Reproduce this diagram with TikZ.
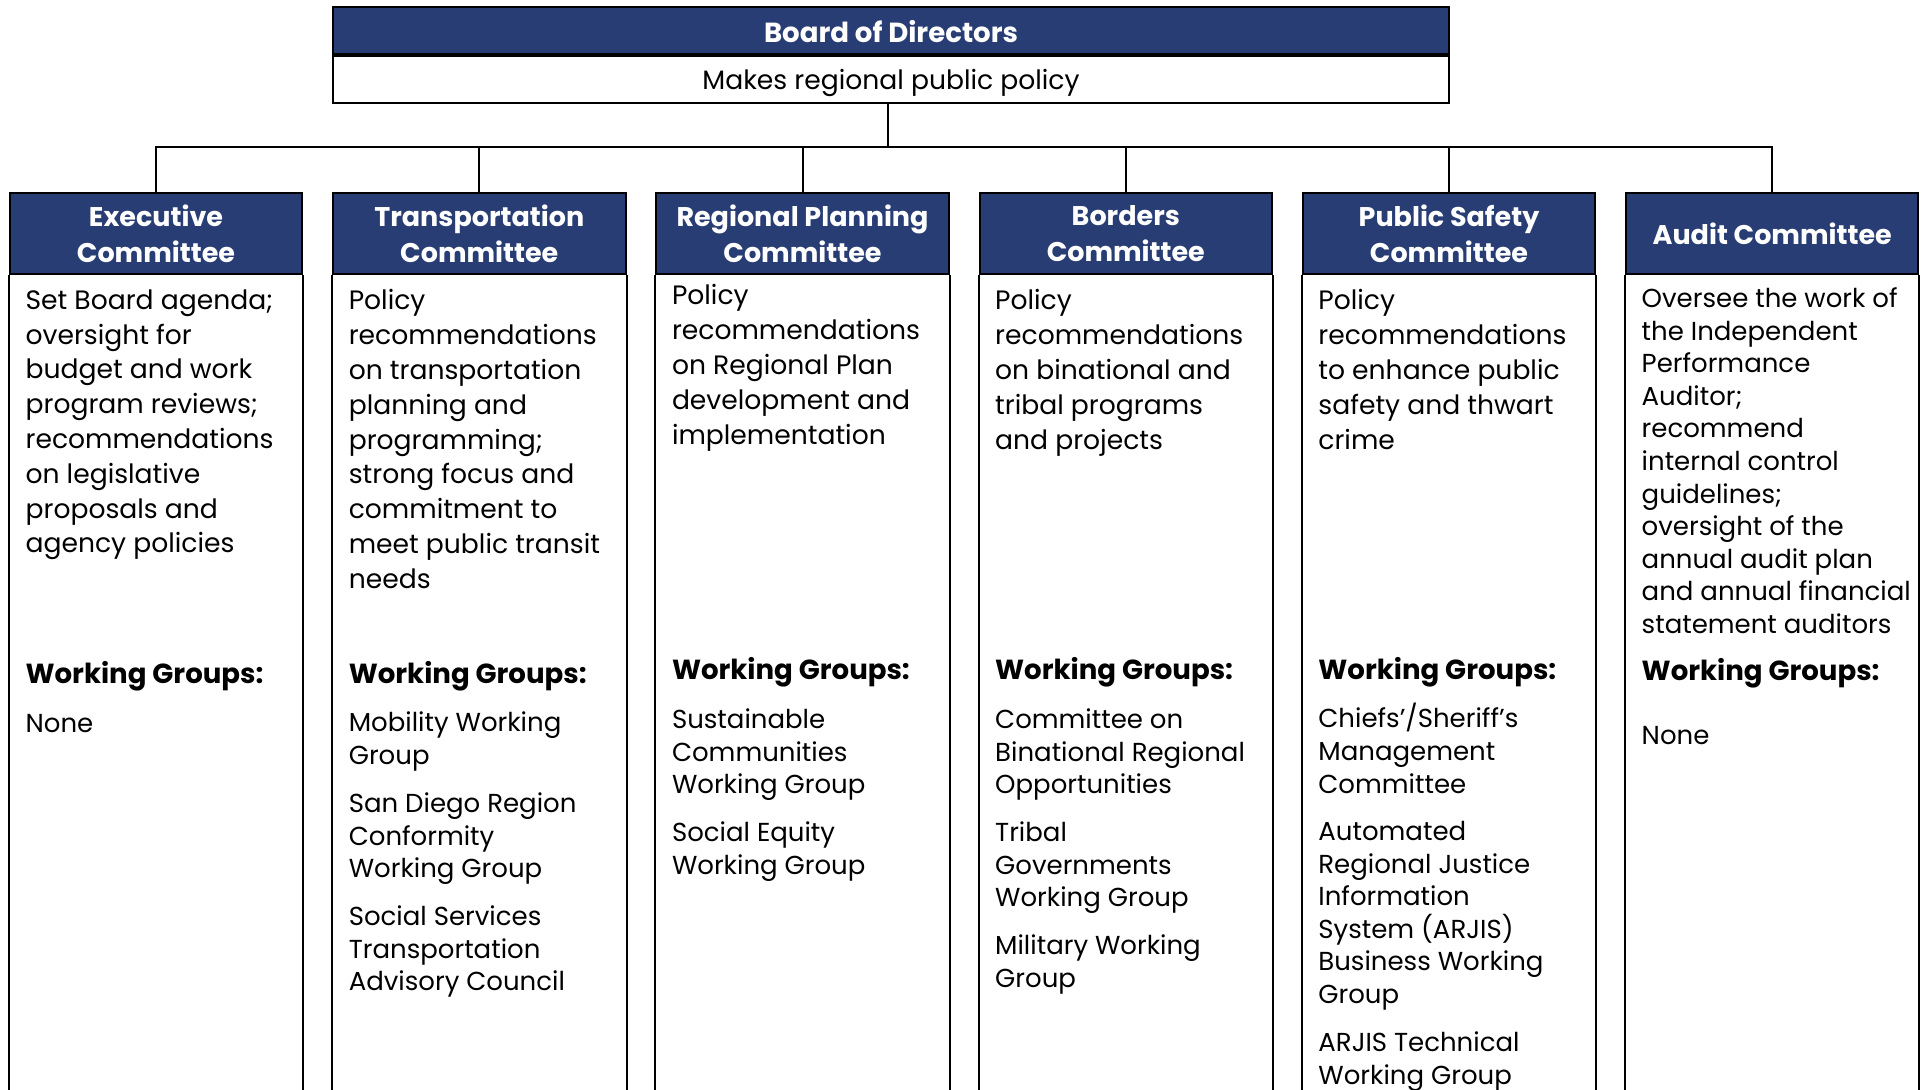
\documentclass[tikz,border=0pt]{standalone}
\usepackage{fontspec}
\setmainfont{Poppins}
\usetikzlibrary{positioning}
\definecolor{navy}{RGB}{41,61,117}
\newcommand{\bodyfont}{\fontsize{13.3}{17.4}\selectfont}
\newcommand{\listfont}{\fontsize{13}{16.3}\selectfont}
\newcommand{\headfont}{\fontsize{13.5}{17.8}\selectfont\bfseries}
\newcommand{\wgfont}{\fontsize{13.8}{17.8}\selectfont\bfseries}

\begin{document}
\begin{tikzpicture}[x=0.5pt,y=-0.5pt,line width=1pt,node distance=8.2pt]
\tikzstyle{head}=[draw,fill=navy,text=white,font=\headfont,align=center,minimum width=146.25pt,minimum height=40.5pt,inner sep=0pt]
\tikzstyle{board}=[draw,fill=navy,text=white,font=\wgfont,minimum width=558pt,minimum height=23.4pt,inner sep=0pt,text height=12pt,text depth=0pt]
\tikzstyle{sub}=[draw,font=\bodyfont,minimum width=558pt,minimum height=23.4pt,inner sep=0pt,text height=11pt,text depth=1pt]
\tikzstyle{desc}=[anchor=north west,align=left,inner sep=0pt,execute at begin node=\strut,execute at end node=\strut]
\tikzstyle{wg}=[anchor=west,font=\wgfont,inner sep=0pt,execute at begin node=\strut]
\tikzstyle{item}=[anchor=north west,align=left,font=\listfont,inner sep=0pt,execute at begin node=\strut,execute at end node=\strut]

\useasboundingbox (0,0) rectangle (1927,1090);

% board on top
\node[board] (board) at (891,30.8) {Board of Directors};
\node[sub] (policy) [below=0pt of board] {Makes regional public policy};
\coordinate (bus) at (887.5,147.5);

% committee headers
\node[head] (exec)     at (156,233.5)    {Executive\\Committee};
\node[head] (trans)    at (479.3,233.5)  {Transportation\\Committee};
\node[head] (regional) at (802.5,233.5)  {Regional Planning\\Committee};
\node[head] (borders)  at (1125.8,233.5) {Borders\\Committee};
\node[head] (safety)   at (1449,233.5)   {Public Safety\\Committee};
\node[head] (audit)    at (1772.2,233.5) {Audit Committee};

\draw (policy.south -| bus) -- (bus);
\draw (exec.north) |- (bus) -| (audit.north);
\foreach \n in {trans,regional,borders,safety}
  \draw (\n.north) -- (\n.north |- bus);
\foreach \n in {exec,trans,regional,borders,safety,audit}
  \draw (\n.south west) -- ++(0,830) (\n.south east) -- ++(0,830);

% what each committee does
\node[desc,font=\bodyfont] (execdesc) at (24.6,288.6) {Set Board agenda;\\oversight for\\budget and work\\program reviews;\\recommendations\\on legislative\\proposals and\\agency policies};
\node[desc,font=\bodyfont] (transdesc) at (347.8,288.6) {Policy\\recommendations\\on transportation\\planning and\\programming;\\strong focus and\\commitment to\\meet public transit\\needs};
\node[desc,font=\bodyfont] (regdesc) at (671,283.6) {Policy\\recommendations\\on Regional Plan\\development and\\implementation};
\node[desc,font=\bodyfont] (borddesc) at (994.2,288.6) {Policy\\recommendations\\on binational and\\tribal programs\\and projects};
\node[desc,font=\bodyfont] (safdesc) at (1317.4,288.6) {Policy\\recommendations\\to enhance public\\safety and thwart\\crime};
\node[desc,font=\listfont] (auditdesc) at (1640.7,286.7) {Oversee the work of\\the Independent\\Performance\\Auditor;\\recommend\\internal control\\guidelines;\\oversight of the\\annual audit plan\\and annual financial\\statement auditors};

% working groups
\node[wg] (execwg)  at (24.6,676)     {Working Groups:};
\node[wg] (transwg) at (347.8,676)    {Working Groups:};
\node[wg] (regwg)   at (671,672.5)    {Working Groups:};
\node[wg] (bordwg)  at (994.2,672.5)  {Working Groups:};
\node[wg] (safwg)   at (1317.4,672.5) {Working Groups:};
\node[wg] (auditwg) at (1640.7,673.5) {Working Groups:};

\node[item] (execnone) [below=7pt of execwg.south west,anchor=north west] {None};

\node[item] (transmob) [below=of transwg.south west,anchor=north west] {Mobility Working\\Group};
\node[item] (transconf) [below=of transmob.south west,anchor=north west] {San Diego Region\\Conformity\\Working Group};
\node[item] (transsocial) [below=of transconf.south west,anchor=north west] {Social Services\\Transportation\\Advisory Council};

\node[item] (regsust) [below=of regwg.south west,anchor=north west] {Sustainable\\Communities\\Working Group};
\node[item] (regequity) [below=of regsust.south west,anchor=north west] {Social Equity\\Working Group};

\node[item] (bordcobro) [below=of bordwg.south west,anchor=north west] {Committee on\\Binational Regional\\Opportunities};
\node[item] (bordtribal) [below=of bordcobro.south west,anchor=north west] {Tribal\\Governments\\Working Group};
\node[item] (bordmil) [below=of bordtribal.south west,anchor=north west] {Military Working\\Group};

\node[item] (safchiefs) [below=of safwg.south west,anchor=north west] {\vphantom{Sl}\smash{Chiefs’/Sheriff’s}\\Management\\Committee};
\node[item] (safarjis) [below=of safchiefs.south west,anchor=north west] {Automated\\Regional Justice\\Information\\System (ARJIS)\\Business Working\\Group};
\node[item] (saftech) [below=of safarjis.south west,anchor=north west] {ARJIS Technical\\Working Group};

\node[item] (auditnone) [below=14pt of auditwg.south west,anchor=north west] {None};
\end{tikzpicture}
\end{document}
